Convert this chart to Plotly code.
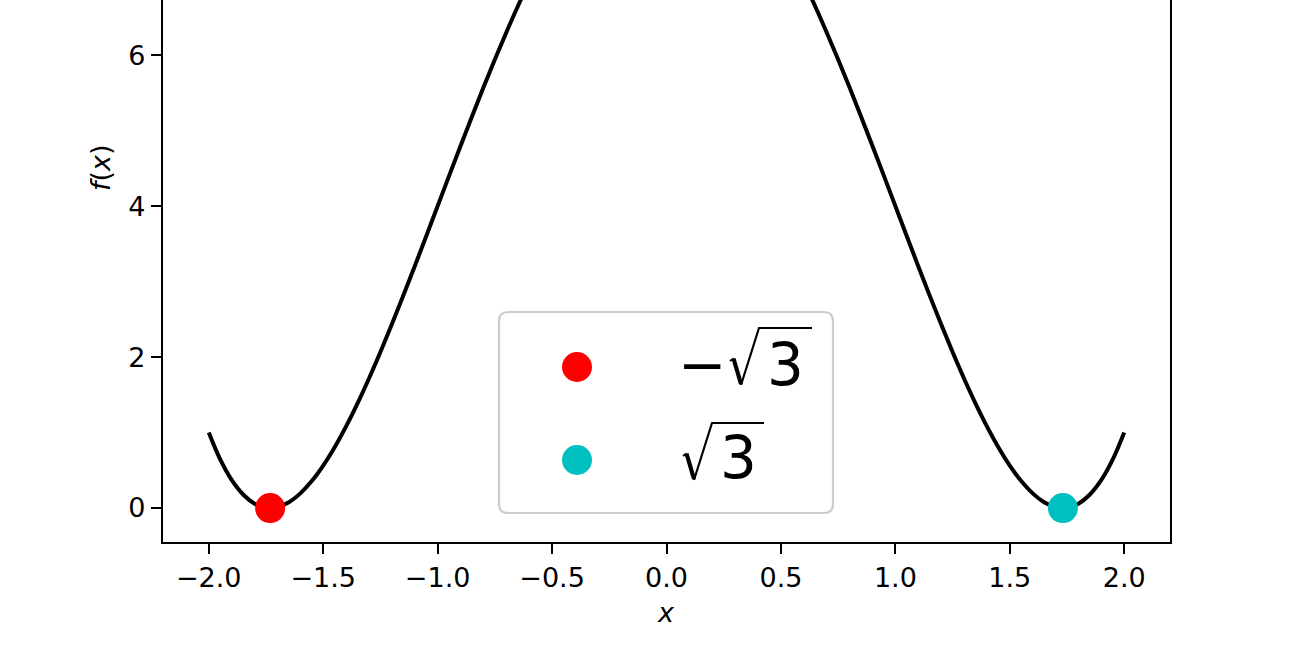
import plotly.graph_objects as go

# ---- data ----
x_right = [0.0, 0.05, 0.1, 0.15, 0.2, 0.25, 0.3, 0.35, 0.4, 0.45, 0.5, 0.55, 0.6, 0.65,
           0.7, 0.75, 0.8, 0.85, 0.9, 0.95, 1.0, 1.05, 1.1, 1.15, 1.2, 1.25, 1.3, 1.35,
           1.4, 1.45, 1.5, 1.55, 1.6, 1.65, 1.7, 1.73, 1.75, 1.8, 1.85, 1.9, 1.95, 2.0]
f_right = [9.0, 8.985, 8.940, 8.866, 8.762, 8.629, 8.468, 8.280, 8.066, 7.826, 7.563, 7.277,
           6.970, 6.644, 6.300, 5.941, 5.570, 5.187, 4.796, 4.400, 4.0, 3.601, 3.204, 2.814,
           2.434, 2.066, 1.716, 1.387, 1.082, 0.806, 0.563, 0.357, 0.194, 0.077, 0.012, 0.0,
           0.004, 0.058, 0.179, 0.372, 0.644, 1.0]
# the curve is symmetric about x = 0
x_vals = [-v for v in reversed(x_right[1:])] + x_right
f_vals = list(reversed(f_right[1:])) + f_right

min_x = [-1.732, 1.732]
min_y = [0.0, 0.0]
min_colors = ["#ff0000", "#00bfbf"]
legend_labels = ["−√3", "√3"]
x_ticks = [-2.0, -1.5, -1.0, -0.5, 0.0, 0.5, 1.0, 1.5, 2.0]
y_ticks = [0, 2, 4, 6]

W, H = 1300, 650
L, R, T, B = 163, 130, 0, 108
PW, PH = W - L - R, H - T - B


def px(xp):
    return (xp - L) / PW


def py(yp):
    return (H - B - yp) / PH


FONT = "DejaVu Sans"

fig = go.Figure()
fig.add_trace(go.Scatter(x=x_vals, y=f_vals, mode="lines",
                         line=dict(color="black", width=4, shape="spline", smoothing=1.0),
                         showlegend=False, hoverinfo="skip"))
for xv, yv, c, lab in zip(min_x, min_y, min_colors, legend_labels):
    fig.add_trace(go.Scatter(x=[xv], y=[yv], mode="markers", name=lab,
                             marker=dict(color=c, size=30), showlegend=False))

fig.update_layout(
    width=W, height=H,
    margin=dict(l=L, r=R, t=T, b=B),
    paper_bgcolor="white", plot_bgcolor="white",
    font=dict(family=FONT, size=27, color="black"),
    showlegend=False,
)
fig.update_xaxes(range=[-2.2, 2.2], tickvals=x_ticks, tickformat=".1f",
                 ticks="outside", ticklen=10, tickwidth=2.2, tickcolor="black",
                 showline=True, linecolor="black", linewidth=2.2, mirror=False,
                 showgrid=False, zeroline=False)
fig.update_yaxes(range=[-0.45, 6.73], tickvals=y_ticks,
                 ticks="outside", ticklen=10, tickwidth=2.2, tickcolor="black",
                 showline=True, linecolor="black", linewidth=2.2, mirror=True,
                 showgrid=False, zeroline=False)

# axis titles
fig.add_annotation(text="<i>x</i>", xref="paper", yref="paper", x=px(666), y=py(612),
                   showarrow=False, font=dict(size=27, family=FONT), xanchor="center", yanchor="middle")
fig.add_annotation(text="<i>f</i>(<i>x</i>)", xref="paper", yref="paper", x=px(100), y=py(168),
                   showarrow=False, textangle=-90, font=dict(size=27, family=FONT),
                   xanchor="center", yanchor="middle")

# legend box (rounded)
x0, x1, y0, y1 = px(499), px(833), py(513), py(312)
rx, ry = 9 / PW, 9 / PH
path = (f"M {x0+rx},{y0} L {x1-rx},{y0} Q {x1},{y0} {x1},{y0+ry} "
        f"L {x1},{y1-ry} Q {x1},{y1} {x1-rx},{y1} L {x0+rx},{y1} "
        f"Q {x0},{y1} {x0},{y1-ry} L {x0},{y0+ry} Q {x0},{y0} {x0+rx},{y0} Z")
fig.add_shape(type="path", path=path, xref="paper", yref="paper",
              line=dict(color="#cccccc", width=2.2), fillcolor="rgba(255,255,255,0.8)")


def note(text, xc, yc, size):
    fig.add_annotation(text=text, xref="paper", yref="paper", x=px(xc), y=py(yc),
                       showarrow=False, xanchor="center", yanchor="middle",
                       font=dict(size=size, family=FONT, color="black"))


def pline(pts, width):
    d = "M " + " L ".join(f"{px(a)},{py(b)}" for a, b in pts)
    fig.add_shape(type="path", path=d, xref="paper", yref="paper",
                  line=dict(color="black", width=width))


# legend entries: marker, (minus), radical sign (drawn), digit
entries = [
    dict(y=367, minus=702, rad=(730, 327), digit=785, bar_end=812),
    dict(y=460, minus=None, rad=(683, 422), digit=738, bar_end=764),
]
for c, e in zip(min_colors, entries):
    ey = e["y"]
    fig.add_shape(type="circle", xref="paper", yref="paper",
                  x0=px(577 - 15), x1=px(577 + 15), y0=py(ey + 15), y1=py(ey - 15),
                  fillcolor=c, line=dict(width=0))
    if e["minus"] is not None:
        note("−", e["minus"], ey - 2, 58)
    note("3", e["digit"], ey - 2, 58)
    ox, oy = e["rad"]
    # hook + thin ascending stroke + vinculum
    pline([(ox, oy + 34), (ox + 3.5, oy + 31.5)], 2)
    pline([(ox + 11, oy + 58), (ox + 29, oy + 1), (e["bar_end"], oy + 1)], 2.2)
    # thick descending stroke
    pline([(ox + 3.5, oy + 31.5), (ox + 11, oy + 57)], 4.2)

fig.write_html("out.html", post_script="document.body.style.margin='0';",
               config={"displayModeBar": False})
